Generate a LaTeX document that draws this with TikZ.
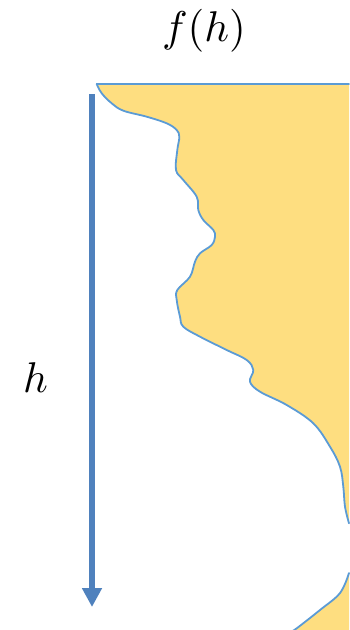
\documentclass[tikz,border=0pt]{standalone}
\usetikzlibrary{arrows.meta}
\definecolor{fillyel}{RGB}{254,222,128}
\definecolor{edgeblue}{RGB}{91,155,213}
\definecolor{arrblue}{RGB}{79,129,189}
\tikzset{
  edgeline/.style={draw=edgeblue, line width=1.8pt, line join=round, line cap=round},
  yelfill/.style={fill=fillyel},
  harrow/.style={draw=arrblue, line width=6pt, -{Triangle[width=19pt,length=19pt]}},
  lbl/.style={inner sep=0pt, scale=4.3}
}
\begin{document}
\begin{tikzpicture}[x=1pt,y=-1pt]
\useasboundingbox (0,0) rectangle (349,630);
\def\upper{(96.7,84) (101.7,93.3) (111.7,103.3) (123.3,110.7) (146.7,116.7) (166.7,123.3) (176.7,130) (179.3,137) (177.3,150) (176,170) (183.3,180) (196.7,196.7) (198.3,210) (203.3,220) (213.3,230) (215,236.7) (211.7,245) (200,253.3) (195,261.7) (190,276.7) (177.3,290) (176.7,300) (180,316.7) (183.3,326.7) (200,336.7) (226.7,350) (246.7,360) (253.3,370) (250,381.7) (260,391.7) (286.7,405) (313.3,423.3) (330,446.7) (340,466.7) (343.3,486.7) (345,506.7) (349,523.3)}
\def\lower{(349,573) (340,593) (320,610) (296.7,628.3) (292,631)}
% fills
\fill[yelfill] plot[smooth, tension=0.6] coordinates {\upper} -- (349,84) -- cycle;
\fill[yelfill] plot[smooth, tension=0.6] coordinates {\lower} -- (349,631) -- cycle;
% outlines
\draw[edgeline] (349,84) -- (96.7,84);
\draw[edgeline] plot[smooth, tension=0.6] coordinates {\upper};
\draw[edgeline] plot[smooth, tension=0.6] coordinates {\lower};
% arrow
\coordinate (arrTop) at (92,94);
\coordinate (arrTip) at (92,607);
\draw[harrow] (arrTop) -- (arrTip);
% labels
\node[lbl] (fh) at (204,31) {$f(h)$};
\node[lbl] (hl) at (35.5,378) {$h$};
\end{tikzpicture}
\end{document}
